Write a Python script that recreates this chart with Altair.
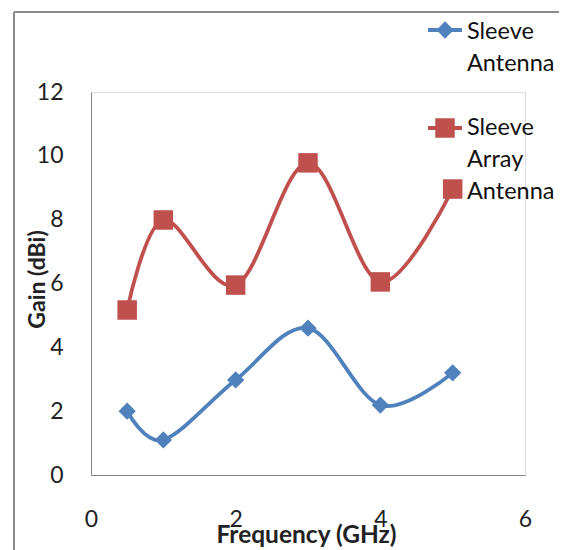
import altair as alt
import pandas as pd

freq = [0.5, 1, 2, 3, 4, 5]
sleeve_antenna = [2.0, 1.1, 2.98, 4.6, 2.19, 3.2]
sleeve_array = [5.17, 7.99, 5.95, 9.78, 6.05, 8.96]
series_names = ["Sleeve Antenna", "Sleeve Array Antenna"]
legend_lines = [["Sleeve", "Antenna"], ["Sleeve", "Array", "Antenna"]]
colors = ["#4F81BD", "#C0504D"]
shapes = ["diamond", "square"]
sizes = [300, 380]

FONT = "Lato"
W, H = 434, 383

x_scale = alt.Scale(domain=[0, 6])
y_scale = alt.Scale(domain=[0, 12])

x_axis = alt.Axis(values=[0, 2, 4, 6], format="d", grid=False, ticks=False, tickSize=0,
                  domainColor="#868686", domainWidth=1, labelFont=FONT, labelFontSize=23,
                  labelColor="#222222", labelPadding=33, labelFlush=False,
                  title="Frequency (GHz)", titleFont=FONT, titleFontSize=24.5,
                  titleFontWeight="bold", titleColor="#222222",
                  titleBaseline="alphabetic", titleY=67, titleX=215)
y_axis = alt.Axis(values=[0, 2, 4, 6, 8, 10, 12], format="d", grid=False, ticks=False, tickSize=0,
                  domainColor="#868686", domainWidth=1, labelFont=FONT, labelFontSize=23,
                  labelColor="#222222", labelPadding=28, labelFlush=False,
                  title="Gain (dBi)", titleFont=FONT, titleFontSize=23,
                  titleFontWeight="bold", titleColor="#222222",
                  titleAngle=270, titleAlign="center", titleBaseline="middle",
                  titleX=-54, titleY=187)

layers = []
for i, vals in enumerate([sleeve_antenna, sleeve_array]):
    df = pd.DataFrame({"Frequency": freq, "Gain": vals, "Series": series_names[i]})
    base = alt.Chart(df)
    line = base.mark_line(interpolate="cardinal", color=colors[i], strokeWidth=3.8).encode(
        x=alt.X("Frequency:Q", scale=x_scale, axis=x_axis),
        y=alt.Y("Gain:Q", scale=y_scale, axis=y_axis),
    )
    pts = base.mark_point(shape=shapes[i], filled=True, opacity=1, color=colors[i], size=sizes[i]).encode(
        x=alt.X("Frequency:Q", scale=x_scale),
        y=alt.Y("Gain:Q", scale=y_scale),
    )
    layers += [line, pts]

# custom legend
one = pd.DataFrame({"k": [0]})
leg_y = [-62, 36]
txt_y = [-53, 43]
for i in range(2):
    lb = alt.Chart(one)
    layers.append(lb.mark_rule(color=colors[i], strokeWidth=3.8).encode(
        x=alt.value(337), x2=alt.value(371), y=alt.value(leg_y[i])))
    layers.append(lb.mark_point(shape=shapes[i], filled=True, opacity=1, color=colors[i],
                                size=sizes[i]).encode(x=alt.value(354), y=alt.value(leg_y[i])))
    layers.append(lb.mark_text(text=legend_lines[i], align="left", baseline="alphabetic",
                               font=FONT, fontSize=23.5, lineHeight=32, color="#111111").encode(
        x=alt.value(376), y=alt.value(txt_y[i])))

# outer chart border (top and left edges)
layers.append(alt.Chart(one).mark_rule(color="#8C8C8C", strokeWidth=2).encode(
    x=alt.value(-77), y=alt.value(-80), y2=alt.value(480)))
layers.append(alt.Chart(one).mark_rule(color="#8C8C8C", strokeWidth=2).encode(
    x=alt.value(-77), x2=alt.value(480), y=alt.value(-80)))

chart = alt.layer(*layers).properties(
    width=W, height=H,
    autosize=alt.AutoSizeParams(type="none"),
    padding={"left": 83, "top": 84, "right": 34, "bottom": 75},
).configure_view(stroke=None).configure(background="white")

chart.save("out.html", embed_options={"renderer": "svg", "actions": False})
